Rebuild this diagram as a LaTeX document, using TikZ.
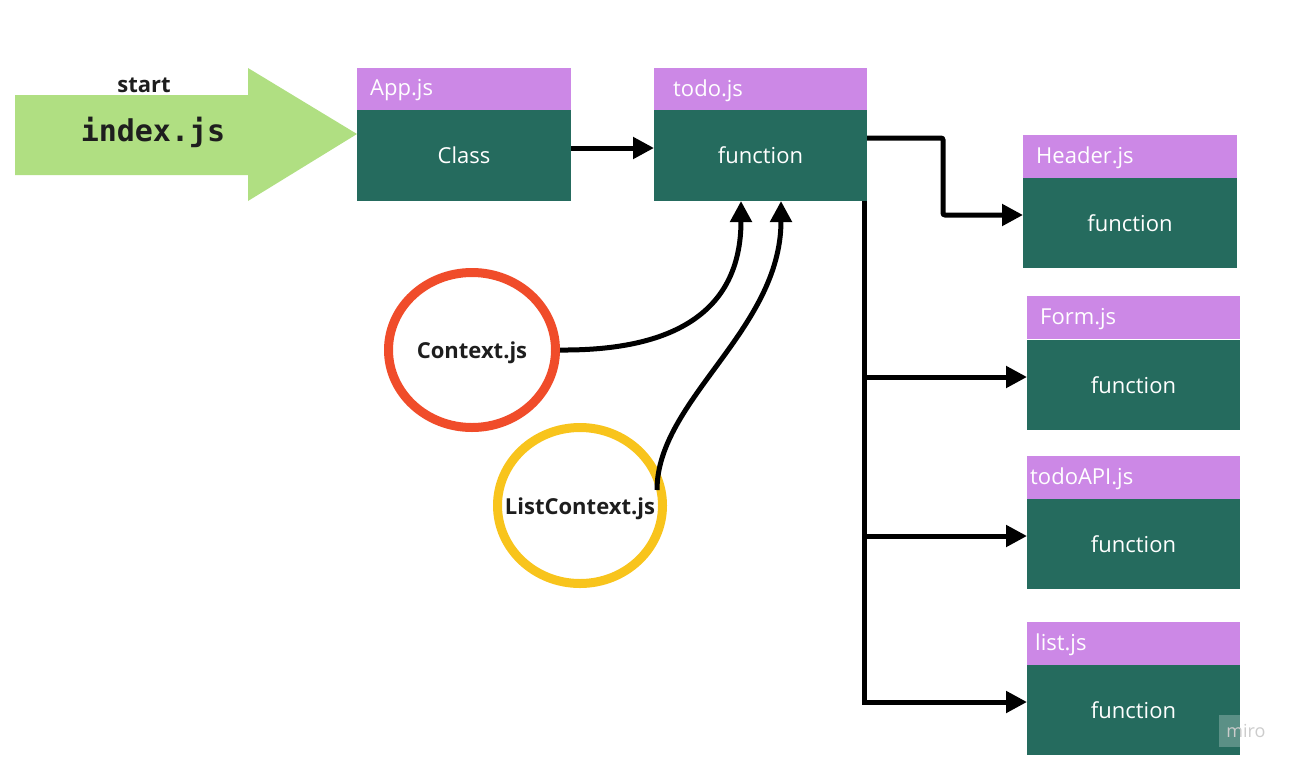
\documentclass[tikz,border=0pt]{standalone}
\usepackage{fontspec}
\setmainfont{Open Sans}
\newfontfamily\monofnt{DejaVu Sans Mono}
\usetikzlibrary{arrows.meta,shapes.geometric,calc}
\definecolor{hdrpurple}{HTML}{CC88E6}
\definecolor{bodygreen}{HTML}{256B5E}
\definecolor{startgreen}{HTML}{B0DF82}
\definecolor{ringred}{HTML}{F04C2A}
\definecolor{ringyellow}{HTML}{F8C41C}
\definecolor{inktext}{HTML}{1E1E1E}
\tikzset{
  hdr/.style={fill=hdrpurple, text=white, inner sep=0pt, outer sep=0pt, minimum height=43pt, anchor=center},
  body/.style={fill=bodygreen, text=white, inner sep=0pt, outer sep=0pt, minimum height=91pt,
    font=\fontsize{22}{26}\selectfont},
  htxt/.style={text=white, inner sep=0pt, anchor=west, font=\fontsize{22}{26}\selectfont},
  conn/.style={line width=5pt, draw=black, -{Triangle[length=21pt,width=21pt]}},
  ring/.style={ellipse, line width=9pt, inner sep=0pt},
  ringtxt/.style={text=inktext, inner sep=0pt, font=\bfseries\fontsize{22}{26}\selectfont},
}
\begin{document}
\begin{tikzpicture}[x=1pt,y=-1pt]
\useasboundingbox (0,0) rectangle (1300,769);
% start arrow
\fill[startgreen] (15,95) -- (248,95) -- (248,68) -- (357,134) -- (248,201) -- (248,175) -- (15,175) -- cycle;
\node[text=inktext, font=\bfseries\fontsize{22}{26}\selectfont] (startlbl) at (144,85) {start};
\node[text=inktext, font=\monofnt\bfseries\fontsize{30}{34}\selectfont] (indexlbl) at (153,132) {index.js};
% App.js
\node[hdr, minimum width=214pt] (apph) at (464,89) {};
\node[htxt] (appht) at ([xshift=13pt,yshift=-1.5pt]apph.west) {App.js};
\node[body, minimum width=214pt] (appb) at (464,155.5) {Class};
% todo.js
\node[hdr, minimum width=213pt] (todoh) at (760.5,89) {};
\node[htxt] (todoht) at ([xshift=19pt,yshift=-1.5pt]todoh.west) {todo.js};
\node[body, minimum width=213pt] (todob) at (760.5,155.5) {function};
% Header.js
\node[hdr, minimum width=214pt] (headh) at (1130,156.5) {};
\node[htxt] (headht) at ([xshift=13pt,yshift=-1.5pt]headh.west) {Header.js};
\node[body, minimum width=214pt, minimum height=90pt] (headb) at (1130,223) {function};
% Form.js
\node[hdr, minimum width=213pt] (formh) at (1133.5,317.5) {};
\node[htxt] (formht) at ([xshift=13pt,yshift=-1.5pt]formh.west) {Form.js};
\node[body, minimum width=213pt, minimum height=90pt] (formb) at (1133.5,385) {function};
% todoAPI.js
\node[hdr, minimum width=213pt] (apih) at (1133.5,477.5) {};
\node[htxt] (apiht) at ([xshift=3pt,yshift=-1.5pt]apih.west) {todoAPI.js};
\node[body, minimum width=213pt, minimum height=90pt] (apib) at (1133.5,544) {function};
% list.js
\node[hdr, minimum width=213pt] (listh) at (1133.5,643.5) {};
\node[htxt] (listht) at ([xshift=8pt,yshift=-1.5pt]listh.west) {list.js};
\node[body, minimum width=213pt, minimum height=90pt] (listb) at (1133.5,710) {function};
% context rings
\node[ring, draw=ringred, minimum width=167pt, minimum height=155pt] (ctx) at (472,350) {};
\node[ringtxt] (ctxt) at ([yshift=-2.5pt]ctx.center) {Context.js};
\node[ring, draw=ringyellow, minimum width=165pt, minimum height=156pt] (lctx) at (580,505.5) {};
\node[ringtxt] (lctxt) at ([yshift=-3pt]lctx.center) {ListContext.js};
% connectors
\draw[conn] ([yshift=7.5pt]appb.east) -- ([yshift=7.5pt]todob.west);
\draw[conn, rounded corners=2pt] ([yshift=17.5pt]todob.east) -- ++(76,0) |- ([yshift=8pt]headb.west);
\coordinate (trunk) at ([xshift=-3pt]todob.south east);
\draw[conn] (trunk) |- ([yshift=8pt]formb.west);
\draw[conn] (trunk) |- ([yshift=8pt]apib.west);
\draw[conn] (trunk) |- ([yshift=8pt]listb.west);
\draw[conn] (ctx.east) .. controls (690,351) and (741,300) .. ([xshift=-19.5pt]todob.south);
\coordinate (lstart) at (657,490);
\draw[conn] (lstart) .. controls (657,400) and (781,330) .. ([xshift=20.5pt]todob.south);
% watermark
\fill[white, opacity=0.25] (1219,715) rectangle (1254,747);
\node[text=black!20, font=\fontsize{18}{20}\selectfont] (miro) at (1246,731) {miro};
\end{tikzpicture}
\end{document}
